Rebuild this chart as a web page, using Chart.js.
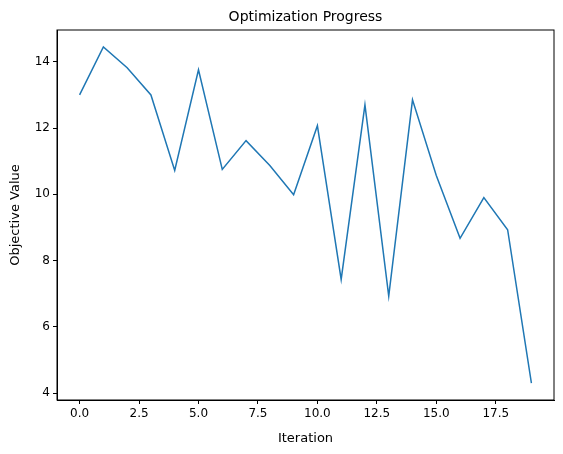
<!DOCTYPE html>
<html>
<head>
<meta charset="utf-8">
<script src="https://cdn.jsdelivr.net/npm/chart.js@4"></script>
<style>
  body { margin: 0; background: #fff; }
  #wrap { width: 563px; height: 454px; }
</style>
</head>
<body>
<div id="wrap"><canvas id="progChart" width="563" height="454"></canvas></div>
<script>
// Optimization progress data
const iterations = [0, 1, 2, 3, 4, 5, 6, 7, 8, 9, 10, 11, 12, 13, 14, 15, 16, 17, 18, 19];
const objective = [13.0, 14.45, 13.82, 13.0, 10.72, 13.76, 10.75, 11.62, 10.87, 9.99,
                   12.07, 7.43, 12.70, 6.93, 12.85, 10.57, 8.67, 9.9, 8.93, 4.3];
const yTicks = [4, 6, 8, 10, 12, 14];

const font = { family: 'DejaVu Sans', size: 12 };

const titlePlugin = {
    id: 'mplTitle',
    afterDraw(chart) {
        const { ctx, chartArea } = chart;
        ctx.save();
        ctx.font = '14px DejaVu Sans';
        ctx.fillStyle = '#000';
        ctx.textAlign = 'center';
        ctx.textBaseline = 'bottom';
        ctx.fillText('Optimization Progress', (chartArea.left + chartArea.right) / 2, chartArea.top - 6);
        ctx.restore();
    }
};

new Chart(document.getElementById('progChart').getContext('2d'), {
    type: 'line',
    data: {
        datasets: [{
            data: iterations.map((x, i) => ({ x: x, y: objective[i] })),
            borderColor: '#1f77b4',
            borderWidth: 1.5,
            pointRadius: 0,
            tension: 0,
            fill: false
        }]
    },
    options: {
        responsive: false,
        animation: false,
        layout: { padding: { top: 30, right: 9, left: 0, bottom: 0 } },
        plugins: { legend: { display: false }, tooltip: { enabled: false } },
        scales: {
            x: {
                type: 'linear',
                min: -0.95,
                max: 19.95,
                afterFit(scale) { scale.height = 54; },
                afterBuildTicks(scale) {
                    scale.ticks = [0, 2.5, 5, 7.5, 10, 12.5, 15, 17.5].map(v => ({ value: v }));
                },
                ticks: { color: '#000', font: font, padding: 3, maxRotation: 0,
                         callback: v => Number(v).toFixed(1) },
                grid: { drawOnChartArea: false, tickLength: 4, color: '#000' },
                border: { color: '#000', width: 1 },
                title: { display: true, text: 'Iteration', color: '#000',
                         font: { family: 'DejaVu Sans', size: 13 }, padding: { top: 2, bottom: 8 } }
            },
            y: {
                min: 3.79,
                max: 14.96,
                afterFit(scale) { scale.width = 57; },
                afterBuildTicks(scale) {
                    scale.ticks = yTicks.map(v => ({ value: v }));
                },
                ticks: { color: '#000', font: font, padding: 3 },
                grid: { drawOnChartArea: false, tickLength: 4, color: '#000' },
                border: { color: '#000', width: 1 },
                title: { display: true, text: 'Objective Value', color: '#000',
                         font: { family: 'DejaVu Sans', size: 13 }, padding: { top: 8, bottom: 2 } }
            }
        }
    },
    plugins: [titlePlugin, {
        id: 'frame',
        afterDraw(chart) {
            const { ctx, chartArea: a } = chart;
            ctx.save();
            ctx.strokeStyle = '#000';
            ctx.lineWidth = 1;
            ctx.strokeRect(a.left, a.top, a.right - a.left, a.bottom - a.top);
            ctx.restore();
        }
    }]
});
</script>
</body>
</html>
